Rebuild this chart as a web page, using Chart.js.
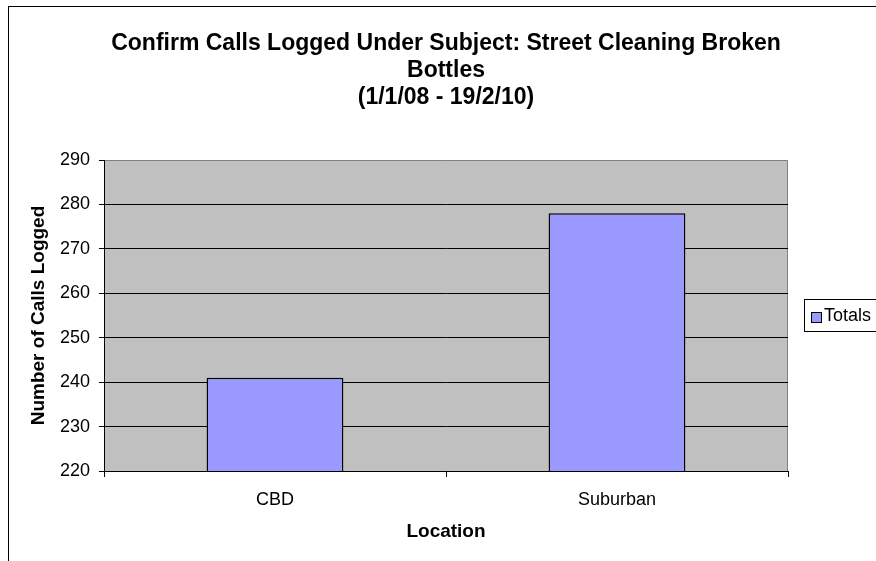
<!DOCTYPE html>
<html>
<head>
<meta charset="utf-8">
<script src="https://cdn.jsdelivr.net/npm/chart.js@4"></script>
<style>
  body { margin: 0; background: #fff; }
  #wrap { width: 876px; height: 561px; }
</style>
</head>
<body>
<div id="wrap"><canvas id="barChart" width="876" height="561"></canvas></div>
<script>
var locations = ['CBD', 'Suburban'];
var totals = [241, 278];
var seriesName = 'Totals';
var titleLines = ['Confirm Calls Logged Under Subject: Street Cleaning Broken', 'Bottles', '(1/1/08 - 19/2/10)'];
var yTitle = 'Number of Calls Logged';
var xTitle = 'Location';

var fontFamily = '"Liberation Sans", Arial, sans-serif';

// frame, plot background, titles and legend drawn around the chart
var excelLook = {
	id: 'excelLook',
	beforeDraw: function(chart) {
		var c = chart.ctx, a = chart.chartArea;
		c.save();
		c.fillStyle = '#fff';
		c.fillRect(0, 0, chart.width, chart.height);
		c.strokeStyle = '#000';
		c.lineWidth = 1;
		c.strokeRect(8.5, 6.5, 1000, 1000);
		c.fillStyle = '#C0C0C0';
		c.fillRect(a.left, a.top, a.right - a.left, a.bottom - a.top);
		c.strokeStyle = '#808080';
		c.beginPath();
		c.moveTo(a.left, a.top + 0.5);
		c.lineTo(a.right - 0.5, a.top + 0.5);
		c.lineTo(a.right - 0.5, a.bottom);
		c.stroke();
		c.restore();
	},
	afterDraw: function(chart) {
		var c = chart.ctx, a = chart.chartArea;
		var cx = (a.left + a.right) / 2;
		c.save();
		c.fillStyle = '#000';
		c.textAlign = 'center';
		c.textBaseline = 'middle';
		c.font = 'bold 23px ' + fontFamily;
		var ys = [44, 71, 98];
		for (var i = 0; i < titleLines.length; i++) {
			c.fillText(titleLines[i], cx, ys[i]);
		}
		c.font = 'bold 19px ' + fontFamily;
		c.fillText(xTitle, cx, 532);
		c.translate(39, (a.top + a.bottom) / 2);
		c.rotate(-Math.PI / 2);
		c.fillText(yTitle, 0, 0);
		c.restore();

		// legend
		c.save();
		c.fillStyle = '#fff';
		c.fillRect(804, 299, 100, 32);
		c.strokeStyle = '#000';
		c.lineWidth = 1;
		c.strokeRect(804.5, 299.5, 100, 32);
		var ds = chart.data.datasets[0];
		c.fillStyle = ds.backgroundColor;
		c.fillRect(811.5, 312.5, 10, 10);
		c.strokeRect(811.5, 312.5, 10, 10);
		c.fillStyle = '#000';
		c.font = '18px ' + fontFamily;
		c.textAlign = 'left';
		c.textBaseline = 'middle';
		c.fillText(ds.label, 824, 316);
		c.restore();
	}
};

var chartdata = {
	labels: locations,
	datasets: [{
		label: seriesName,
		data: totals,
		backgroundColor: '#9999FF',
		borderColor: '#000',
		borderWidth: 1.5,
		categoryPercentage: 1.0,
		barPercentage: 0.4
	}]
};

var options = {
	responsive: false,
	animation: false,
	layout: { padding: { top: 160, right: 88, left: 0, bottom: 0 } },
	plugins: {
		legend: { display: false },
		title: { display: false },
		tooltip: { enabled: false }
	},
	scales: {
		x: {
			offset: true,
			afterFit: function(scale) { scale.height = 90; },
			grid: { offset: true, drawOnChartArea: false, tickLength: 6, tickColor: '#000' },
			border: { color: '#000', width: 1 },
			ticks: { color: '#000', padding: 12, font: { family: fontFamily, size: 18 } }
		},
		y: {
			min: 220,
			max: 290,
			afterFit: function(scale) { scale.width = 104; },
			grid: {
				tickLength: 5,
				tickColor: '#000',
				color: function(ctx) { return ctx.tick && ctx.tick.value === 290 ? 'rgba(0,0,0,0)' : '#000'; }
			},
			border: { color: '#000', width: 1 },
			ticks: { stepSize: 10, color: '#000', padding: 9, font: { family: fontFamily, size: 18 } }
		}
	}
};

var ctx = document.getElementById('barChart');
var barGraph = new Chart(ctx, {
	type: 'bar',
	data: chartdata,
	options: options,
	plugins: [excelLook]
});
</script>
</body>
</html>
